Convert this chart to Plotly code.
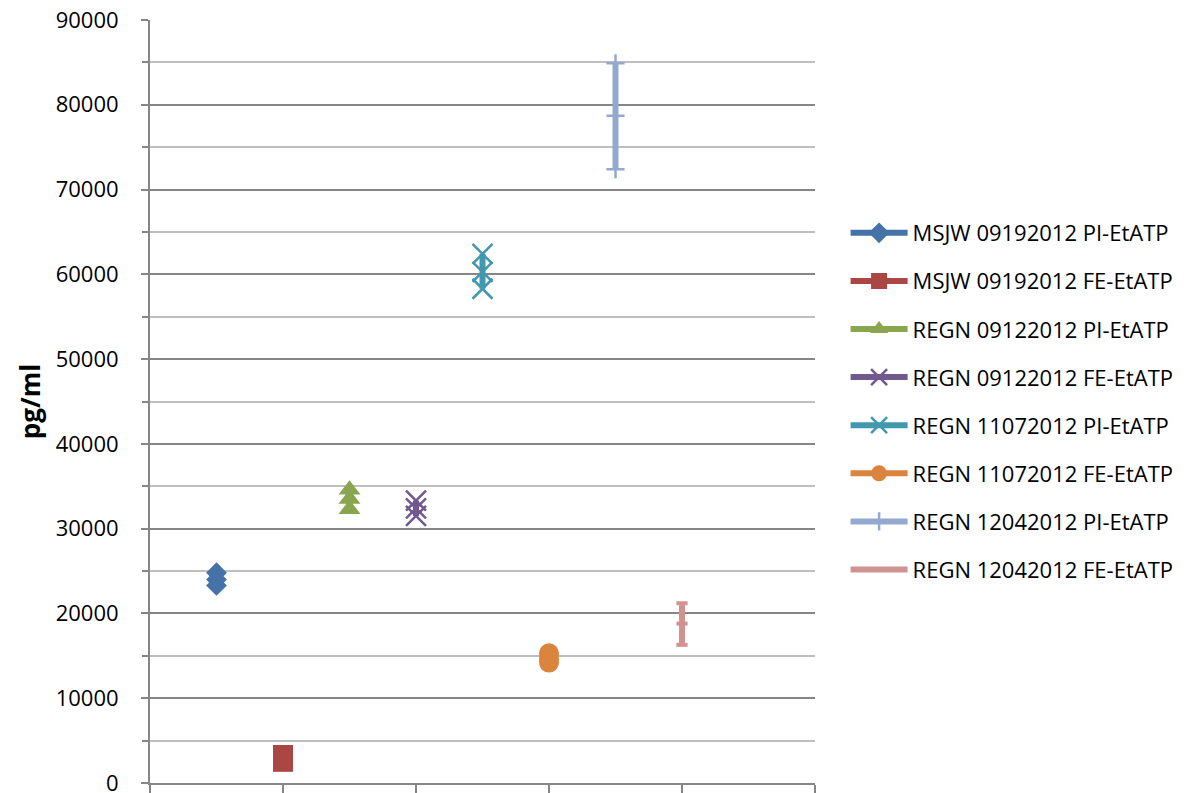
import plotly.graph_objects as go

# Series names (legend order)
series_names = [
    "MSJW 09192012 PI-EtATP",
    "MSJW 09192012 FE-EtATP",
    "REGN 09122012 PI-EtATP",
    "REGN 09122012 FE-EtATP",
    "REGN 11072012 PI-EtATP",
    "REGN 11072012 FE-EtATP",
    "REGN 12042012 PI-EtATP",
    "REGN 12042012 FE-EtATP",
]

# Sample position along the x axis for each series
series_x = [1, 2, 3, 4, 5, 6, 7, 8]

# Replicate measurements (pg/ml) per series
msjw_0919_pi = [24800, 24000, 23300]
msjw_0919_fe = [3300, 2900, 2500]
regn_0912_pi = [34600, 33500, 32300]
regn_0912_fe = [33300, 32400, 31500]
regn_1107_pi = [62400, 60300, 58300]
regn_1107_fe = [15300, 14700, 14200]
regn_1204_pi = [84900, 78700, 72400]
regn_1204_fe = [21200, 18800, 16300]

series_values = [
    msjw_0919_pi, msjw_0919_fe, regn_0912_pi, regn_0912_fe,
    regn_1107_pi, regn_1107_fe, regn_1204_pi, regn_1204_fe,
]

colors = ["#4572A7", "#AA4643", "#89A54E", "#71588F",
          "#4198AF", "#DB843D", "#93A9CF", "#D19392"]
symbols = ["diamond", "square", "triangle-up", "x-thin",
           "x-thin", "circle", "cross-thin", "line-ew"]
sizes = [16, 20, 19, 20, 20, 20, 13, 8]
marker_line_widths = [0, 0, 0, 2.5, 2.5, 0, 2.5, 4]

fig = go.Figure()
for i, name in enumerate(series_names):
    vals = series_values[i]
    fig.add_trace(go.Scatter(
        x=[series_x[i]] * len(vals),
        y=vals,
        name=name,
        legendgroup=f"g{i}",
        mode="lines+markers",
        line=dict(color=colors[i], width=6),
        marker=dict(
            symbol=symbols[i],
            size=sizes[i],
            color=colors[i],
            line=dict(color=colors[i], width=marker_line_widths[i]),
        ),
    ))

axis_gray = "#868686"

fig.update_layout(
    width=1204,
    height=793,
    paper_bgcolor="white",
    plot_bgcolor="white",
    margin=dict(l=150, r=389, t=20, b=10, autoexpand=False),
    font=dict(family="Open Sans", size=22, color="#000000"),
    showlegend=True,
    legend=dict(
        x=1.046, xanchor="left",
        y=0.5, yanchor="middle",
        traceorder="grouped",
        tracegroupgap=16.5,
        itemwidth=57,
        font=dict(family="Open Sans", size=22, color="#000000"),
        bgcolor="rgba(0,0,0,0)",
    ),
    xaxis=dict(
        range=[0, 10],
        tick0=0,
        dtick=2,
        showticklabels=False,
        ticks="outside",
        ticklen=8,
        tickwidth=1.5,
        tickcolor=axis_gray,
        showgrid=False,
        zeroline=False,
        showline=True,
        linecolor=axis_gray,
        linewidth=2,
        automargin=False,
    ),
    yaxis=dict(
        range=[0, 90000],
        tick0=0,
        dtick=10000,
        tickformat="d",
        ticks="outside",
        ticklen=7,
        tickwidth=1.5,
        tickcolor=axis_gray,
        ticklabelstandoff=18,
        ticklabeloverflow="allow",
        showgrid=True,
        gridcolor=axis_gray,
        gridwidth=1.5,
        zeroline=False,
        showline=True,
        linecolor=axis_gray,
        linewidth=2,
        automargin=False,
        tickfont=dict(family="Open Sans", size=22, color="#000000"),
        minor=dict(
            dtick=5000,
            ticks="outside",
            ticklen=6,
            tickwidth=1.5,
            tickcolor=axis_gray,
            showgrid=True,
            gridcolor="#BFBFBF",
            gridwidth=1.5,
        ),
        title=dict(
            text="<b>pg/ml</b>",
            font=dict(family="Open Sans", size=26, color="#000000"),
            standoff=8,
        ),
    ),
)

fig.write_html("out.html")
